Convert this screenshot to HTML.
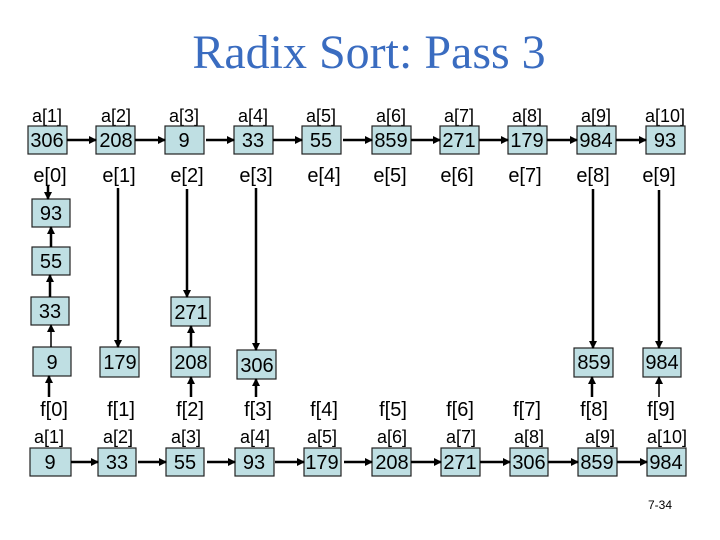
<!DOCTYPE html>
<html><head><meta charset="utf-8"><style>
html,body{margin:0;padding:0;background:#fff;}
svg{display:block;}
text{font-family:"Liberation Sans",sans-serif;fill:#000;}
.t{font-size:20px;text-anchor:middle;}
.l{font-size:18px;text-anchor:middle;}
rect{fill:#bfdfe3;stroke:#222;stroke-width:1.2;}
line{stroke:#000;stroke-width:2.5;}
</style></head><body>
<svg width="720" height="540" viewBox="0 0 720 540" xmlns="http://www.w3.org/2000/svg">
<defs><marker id="a" markerWidth="8" markerHeight="8" refX="7" refY="4" orient="auto" markerUnits="userSpaceOnUse"><path d="M0,0 L8,4 L0,8 z" fill="#000"/></marker></defs>
<text x="369" y="68" style="font-family:'Liberation Serif',serif;font-size:48px;fill:#3a6cc0;text-anchor:middle">Radix Sort: Pass 3</text>

<g>
<text class="l" x="47" y="122">a[1]</text><rect x="28" y="126" width="39" height="28"/><text class="t" x="47" y="147">306</text>
<text class="l" x="116" y="122">a[2]</text><rect x="96" y="126" width="39" height="28"/><text class="t" x="116" y="147">208</text>
<text class="l" x="184" y="122">a[3]</text><rect x="165" y="126" width="39" height="28"/><text class="t" x="184" y="147">9</text>
<text class="l" x="253" y="122">a[4]</text><rect x="234" y="126" width="39" height="28"/><text class="t" x="253" y="147">33</text>
<text class="l" x="321" y="122">a[5]</text><rect x="302" y="126" width="39" height="28"/><text class="t" x="321" y="147">55</text>
<text class="l" x="391" y="122">a[6]</text><rect x="372" y="126" width="39" height="28"/><text class="t" x="391" y="147">859</text>
<text class="l" x="459" y="122">a[7]</text><rect x="440" y="126" width="39" height="28"/><text class="t" x="459" y="147">271</text>
<text class="l" x="527" y="122">a[8]</text><rect x="508" y="126" width="39" height="28"/><text class="t" x="527" y="147">179</text>
<text class="l" x="596" y="122">a[9]</text><rect x="577" y="126" width="39" height="28"/><text class="t" x="596" y="147">984</text>
<text class="l" x="665" y="122">a[10]</text><rect x="646" y="126" width="39" height="28"/><text class="t" x="665" y="147">93</text>
<line x1="67" y1="140" x2="96" y2="140" marker-end="url(#a)"/>
<line x1="135" y1="140" x2="165" y2="140" marker-end="url(#a)"/>
<line x1="206" y1="140" x2="234" y2="140" marker-end="url(#a)"/>
<line x1="273" y1="140" x2="302" y2="140" marker-end="url(#a)"/>
<line x1="343" y1="140" x2="372" y2="140" marker-end="url(#a)"/>
<line x1="411" y1="140" x2="440" y2="140" marker-end="url(#a)"/>
<line x1="479" y1="140" x2="508" y2="140" marker-end="url(#a)"/>
<line x1="547" y1="140" x2="577" y2="140" marker-end="url(#a)"/>
<line x1="616" y1="140" x2="646" y2="140" marker-end="url(#a)"/>
</g>

<g>
<text class="t" x="50" y="182">e[0]</text><text class="t" x="119" y="182">e[1]</text><text class="t" x="187" y="182">e[2]</text><text class="t" x="256" y="182">e[3]</text><text class="t" x="324" y="182">e[4]</text>
<text class="t" x="390" y="182">e[5]</text><text class="t" x="457" y="182">e[6]</text><text class="t" x="525" y="182">e[7]</text><text class="t" x="593" y="182">e[8]</text><text class="t" x="659" y="182">e[9]</text>
</g>

<g>
<rect x="32" y="199" width="38" height="28"/><text class="t" x="51" y="220">93</text>
<rect x="32" y="247" width="38" height="28"/><text class="t" x="51" y="268">55</text>
<rect x="31" y="297" width="38" height="28"/><text class="t" x="50" y="318">33</text>
<rect x="33" y="347" width="38" height="29"/><text class="t" x="52" y="369">9</text>
<rect x="171" y="297" width="39" height="29"/><text class="t" x="191" y="319">271</text>
<rect x="100" y="347" width="39" height="30"/><text class="t" x="120" y="369">179</text>
<rect x="171" y="347" width="39" height="30"/><text class="t" x="191" y="369">208</text>
<rect x="237" y="350" width="39" height="29"/><text class="t" x="257" y="372">306</text>
<rect x="574" y="348" width="39" height="29"/><text class="t" x="594" y="369">859</text>
<rect x="643" y="348" width="38" height="29"/><text class="t" x="662" y="369">984</text>

<line x1="48" y1="186" x2="48" y2="199" marker-end="url(#a)"/>
<line x1="51" y1="247" x2="51" y2="227" marker-end="url(#a)"/>
<line x1="50" y1="297" x2="50" y2="275" marker-end="url(#a)"/>
<line x1="51" y1="347" x2="51" y2="325" marker-end="url(#a)" style="stroke-width:1.5"/>
<line x1="118" y1="188" x2="118" y2="347" marker-end="url(#a)"/>
<line x1="187" y1="189" x2="187" y2="297" marker-end="url(#a)"/>
<line x1="191" y1="347" x2="191" y2="326" marker-end="url(#a)"/>
<line x1="256" y1="188" x2="256" y2="350" marker-end="url(#a)"/>
<line x1="593" y1="189" x2="593" y2="348" marker-end="url(#a)"/>
<line x1="659" y1="190" x2="659" y2="348" marker-end="url(#a)"/>
</g>

<g>
<line x1="49" y1="397" x2="49" y2="376" marker-end="url(#a)"/>
<line x1="191" y1="397" x2="191" y2="377" marker-end="url(#a)"/>
<line x1="256" y1="397" x2="256" y2="379" marker-end="url(#a)"/>
<line x1="592" y1="397" x2="592" y2="377" marker-end="url(#a)"/>
<line x1="659" y1="397" x2="659" y2="377" marker-end="url(#a)" style="stroke-width:1.5"/>
<text class="t" x="54" y="416">f[0]</text><text class="t" x="121" y="416">f[1]</text><text class="t" x="190" y="416">f[2]</text><text class="t" x="258" y="416">f[3]</text><text class="t" x="324" y="416">f[4]</text>
<text class="t" x="393" y="416">f[5]</text><text class="t" x="460" y="416">f[6]</text><text class="t" x="527" y="416">f[7]</text><text class="t" x="594" y="416">f[8]</text><text class="t" x="661" y="416">f[9]</text>
</g>

<g>
<text class="l" x="49" y="443">a[1]</text><rect x="30" y="448" width="41" height="28"/><text class="t" x="50" y="469">9</text>
<text class="l" x="118" y="443">a[2]</text><rect x="98" y="448" width="38" height="28"/><text class="t" x="117" y="469">33</text>
<text class="l" x="186" y="443">a[3]</text><rect x="166" y="448" width="38" height="28"/><text class="t" x="185" y="469">55</text>
<text class="l" x="255" y="443">a[4]</text><rect x="235" y="448" width="39" height="28"/><text class="t" x="254" y="469">93</text>
<text class="l" x="322" y="443">a[5]</text><rect x="304" y="448" width="37" height="28"/><text class="t" x="322" y="469">179</text>
<text class="l" x="392" y="443">a[6]</text><rect x="372" y="448" width="39" height="28"/><text class="t" x="392" y="469">208</text>
<text class="l" x="461" y="443">a[7]</text><rect x="441" y="448" width="39" height="28"/><text class="t" x="460" y="469">271</text>
<text class="l" x="529" y="443">a[8]</text><rect x="510" y="448" width="38" height="28"/><text class="t" x="529" y="469">306</text>
<text class="l" x="600" y="443">a[9]</text><rect x="578" y="448" width="39" height="28"/><text class="t" x="597" y="469">859</text>
<text class="l" x="667" y="443">a[10]</text><rect x="647" y="448" width="39" height="28"/><text class="t" x="666" y="469">984</text>
<line x1="71" y1="462" x2="98" y2="462" marker-end="url(#a)"/>
<line x1="138" y1="462" x2="166" y2="462" marker-end="url(#a)"/>
<line x1="207" y1="462" x2="235" y2="462" marker-end="url(#a)"/>
<line x1="275" y1="462" x2="304" y2="462" marker-end="url(#a)"/>
<line x1="344" y1="462" x2="372" y2="462" marker-end="url(#a)"/>
<line x1="411" y1="462" x2="441" y2="462" marker-end="url(#a)"/>
<line x1="480" y1="462" x2="510" y2="462" marker-end="url(#a)"/>
<line x1="548" y1="462" x2="578" y2="462" marker-end="url(#a)"/>
<line x1="617" y1="462" x2="647" y2="462" marker-end="url(#a)"/>
</g>
<text x="660" y="509" style="font-size:12px;text-anchor:middle">7-34</text>
</svg>
</body></html>
